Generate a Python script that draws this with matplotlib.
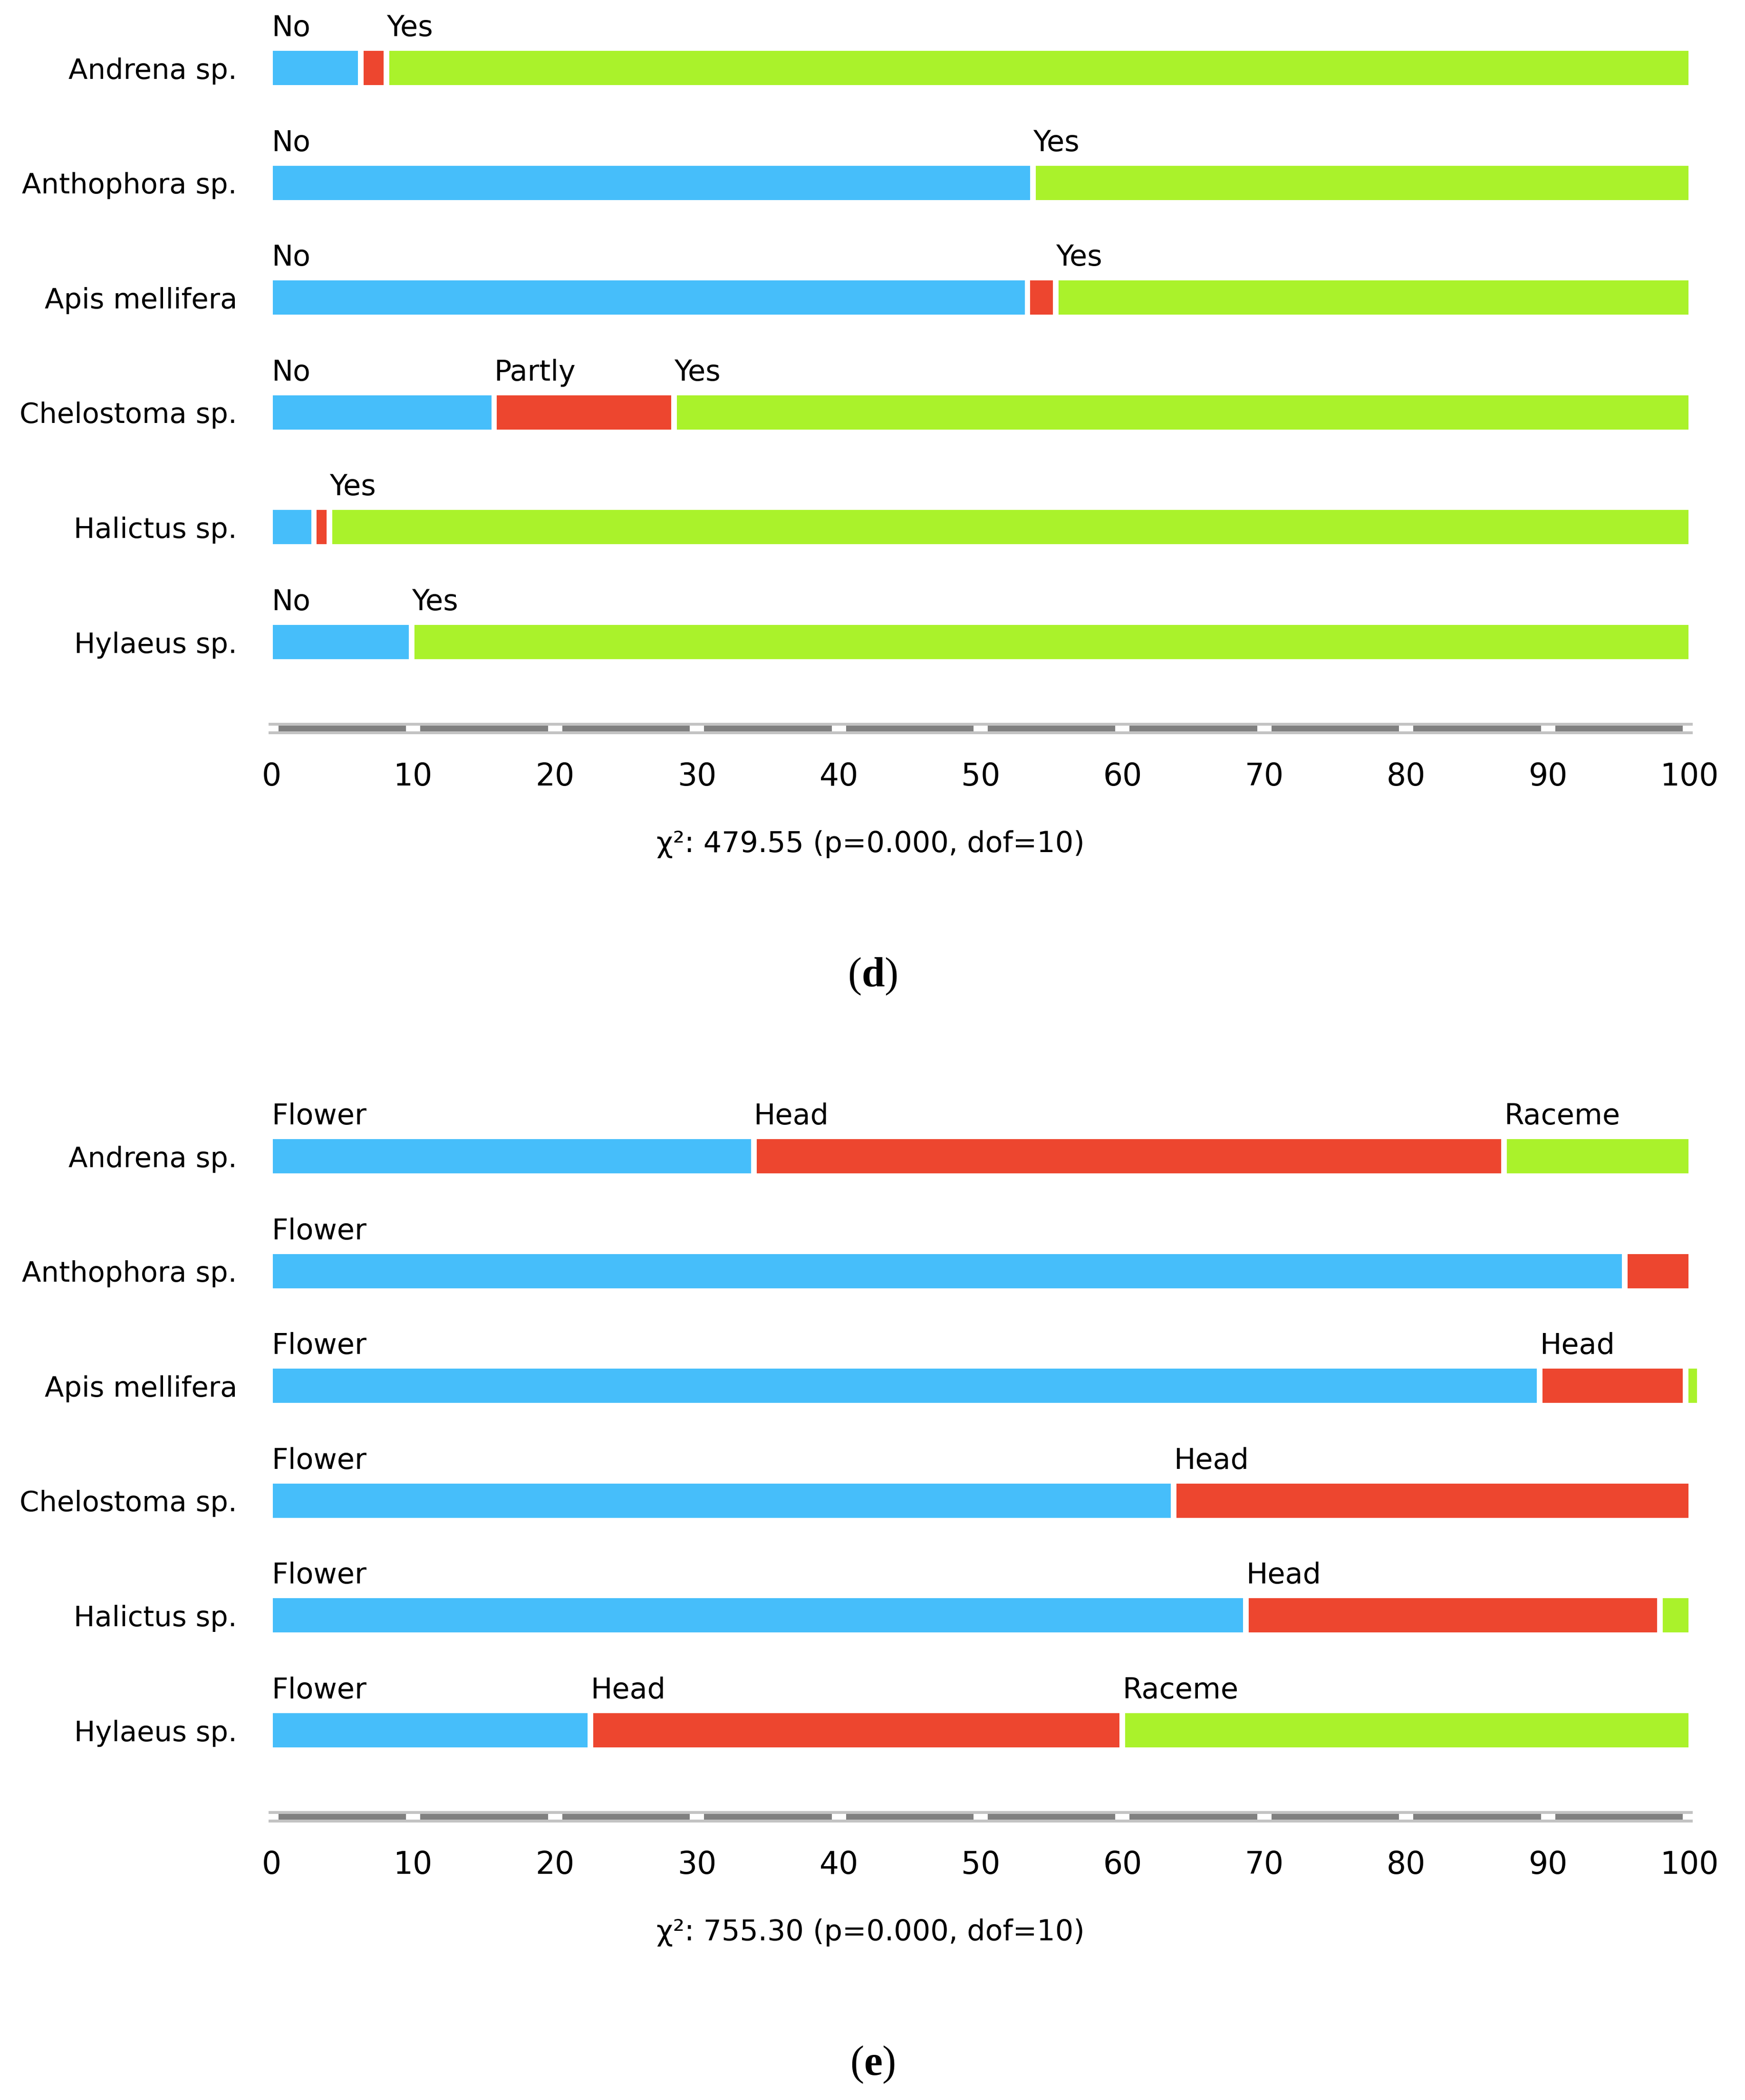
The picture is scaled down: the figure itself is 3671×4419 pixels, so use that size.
import matplotlib
matplotlib.use("Agg")
import matplotlib.pyplot as plt
from matplotlib.patches import Rectangle
import numpy as np

# ---------------- data ----------------
species = ["Andrena sp.", "Anthophora sp.", "Apis mellifera",
           "Chelostoma sp.", "Halictus sp.", "Hylaeus sp."]

d_categories = ["No", "Partly", "Yes"]
d_no = [6.3, 53.7, 53.3, 15.7, 3.0, 9.9]
d_partly = [1.8, 0.0, 2.0, 12.7, 1.1, 0.0]
d_yes = [91.9, 46.3, 44.7, 71.6, 95.9, 90.1]
d_stat = "χ²: 479.55 (p=0.000, dof=10)"

e_categories = ["Flower", "Head", "Raceme"]
e_flower = [34.0, 95.4, 89.4, 63.6, 68.7, 22.5]
e_head = [52.9, 4.6, 10.3, 36.4, 29.2, 37.5]
e_raceme = [13.1, 0.0, 0.3, 0.0, 2.1, 40.0]
e_stat = "χ²: 755.30 (p=0.000, dof=10)"

xticks = list(range(0, 101, 10))

# ---------------- style / layout ----------------
colors = ["#46befa", "#ed462f", "#aaf22b"]
W, H, DPI = 3671, 4419, 300
X0, X100 = 571, 3555          # pixel x of 0 and 100
ROW0, ROW = 143, 241.6        # pixel y of first bar centre, row pitch
PANEL_H = 1560
BAR_H = 72 / ROW
LABEL_OFF = 67 / ROW
GAP, EDGE, MINW = 0.4, 0.1, 0.6

plt.rcParams['font.family'] = ['DejaVu Sans']
plt.rcParams['mathtext.fontset'] = 'custom'
plt.rcParams['mathtext.rm'] = 'Liberation Serif'
plt.rcParams['mathtext.bf'] = 'Liberation Serif:bold'

fig = plt.figure(figsize=(W / DPI, H / DPI), dpi=DPI)
fig.patch.set_facecolor('white')


def py(px):
    return (px - ROW0) / ROW


def panel(offset, series, cats, stat, tag):
    ax = fig.add_axes([X0 / W, 1 - (offset + PANEL_H) / H,
                       (X100 - X0) / W, PANEL_H / H])
    ax.set_xlim(0, 100)
    ax.set_ylim(py(PANEL_H), py(0))
    for s in ax.spines.values():
        s.set_visible(False)
    ax.set_xticks([])
    ax.set_yticks(range(len(species)), species, fontsize=14.2)
    ax.tick_params(axis='y', length=0, pad=17.3)

    vals = np.array(series).T
    for i, row in enumerate(vals):
        nz = [j for j, v in enumerate(row) if v > 0]
        cum = 0.0
        for j, v in enumerate(row):
            if v <= 0:
                continue
            left = cum + (EDGE if j == nz[0] else GAP / 2)
            right = cum + v - (EDGE if j == nz[-1] else GAP / 2)
            if right - left < MINW:
                right = left + MINW
            ax.barh(i, right - left, left=left, height=BAR_H,
                    color=colors[j], linewidth=0, clip_on=False)
            if v >= 5:
                ax.text(cum, i - LABEL_OFF, cats[j], ha='left',
                        va='baseline', fontsize=14.5, color='black')
            cum += v

    # ruler-style axis
    yr = py(1533)
    ax.add_patch(Rectangle((-0.2, yr - 12 / ROW), 100.4, 24 / ROW,
                           facecolor='#c3c3c3', lw=0, clip_on=False))
    ax.add_patch(Rectangle((0, yr - 6 / ROW), 100, 12 / ROW,
                           facecolor='#808080', lw=0, clip_on=False))
    for t in xticks:
        ax.add_patch(Rectangle((t - 0.5, yr - 6 / ROW), 1.0, 12 / ROW,
                               facecolor='white', lw=0, clip_on=False))
        ax.text(t, py(1653), str(t), ha='center', va='baseline',
                fontsize=15.5, color='black', clip_on=False)

    fig.text(1831 / W, 1 - (offset + 1776) / H, stat, ha='center',
             va='center', fontsize=14.5, color='black')
    fig.text(1836 / W, 1 - (offset + 2055) / H, r'($\mathbf{%s}$)' % tag,
             ha='center', va='center', fontsize=21,
             family='Liberation Serif', color='black')


panel(0, [d_no, d_partly, d_yes], d_categories, d_stat, 'd')
panel(2290, [e_flower, e_head, e_raceme], e_categories, e_stat, 'e')

fig.savefig("out.png", dpi=DPI, facecolor='white')
